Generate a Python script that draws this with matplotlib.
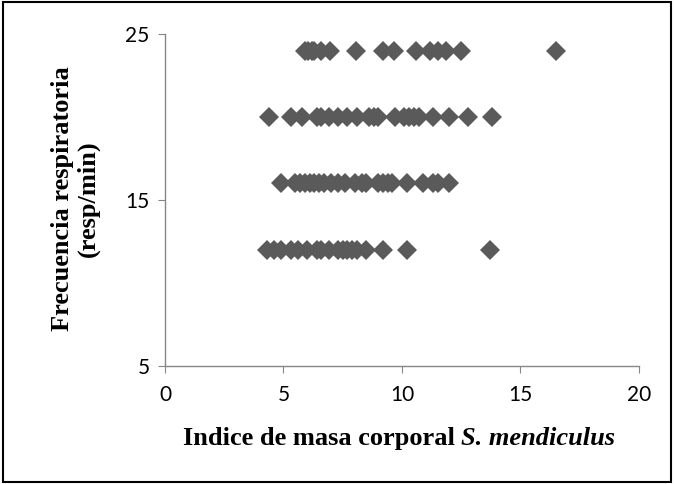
import matplotlib.pyplot as plt
from matplotlib.patches import Rectangle

# x = body mass index, grouped by respiratory rate row
imc_24 = [5.9, 6.05, 6.2, 6.3, 6.6, 6.95, 8.05, 9.2, 9.65, 10.6, 11.2, 11.5, 11.85, 12.5, 16.5]
imc_20 = [4.4, 5.3, 5.8, 6.4, 6.6, 6.9, 7.3, 7.7, 8.1, 8.6, 8.8, 9.0, 9.7, 10.1, 10.3,
          10.5, 10.7, 11.3, 12.0, 12.8, 13.8]
imc_16 = [4.9, 5.5, 5.7, 5.9, 6.1, 6.3, 6.5, 6.7, 7.0, 7.3, 7.6, 8.0, 8.3, 8.5,
          9.0, 9.2, 9.4, 9.6, 10.2, 10.9, 11.3, 11.5, 12.0]
imc_12 = [4.3, 4.6, 4.9, 5.3, 5.6, 6.0, 6.4, 6.6, 6.9, 7.3, 7.5, 7.7, 7.9, 8.1,
          8.5, 9.2, 10.2, 13.7]
rows = {24: imc_24, 20: imc_20, 16: imc_16, 12: imc_12}

x_ticks = [0, 5, 10, 15, 20]
y_ticks = [5, 15, 25]

GRAY = "#868686"
MARK = "#5a5a5a"

fig = plt.figure(figsize=(6.74, 4.84), dpi=100)
ax = fig.add_axes([0.2448, 0.2438, 0.7032, 0.686])

for freq, xs in rows.items():
    ax.plot(xs, [freq] * len(xs), linestyle="none", marker="D",
            markersize=9.8, color=MARK, markeredgewidth=0)

ax.set_xlim(0, 20)
ax.set_ylim(5, 25)
ax.set_xticks(x_ticks)
ax.set_yticks(y_ticks)
for side in ("top", "right"):
    ax.spines[side].set_visible(False)
for side in ("left", "bottom"):
    ax.spines[side].set_color(GRAY)
    ax.spines[side].set_linewidth(1.0)
ax.tick_params(direction="out", length=5, color=GRAY, labelsize=15)
ax.tick_params(axis="x", pad=9)
ax.tick_params(axis="y", pad=6)
for lab in ax.get_xticklabels() + ax.get_yticklabels():
    lab.set_family("Lato")

serif = "Liberation Serif"
fig.text(0.112, 0.59, "Frecuencia respiratoria\n(resp/min)", rotation=90,
         ha="center", va="center", multialignment="center",
         family=serif, fontweight="bold", fontsize=19, linespacing=1.15)

t1 = fig.text(0.2715, 0.093, "Indice de masa corporal ", ha="left", va="center",
              family=serif, fontweight="bold", fontsize=19)
fig.canvas.draw()
ax.annotate("S. mendiculus", xy=(1, 0), xycoords=t1, va="bottom", ha="left",
            family=serif, fontweight="bold", fontstyle="italic", fontsize=19)

# border around the whole chart
fig.patches.append(Rectangle((0.005, 0.005), 0.99, 0.99, transform=fig.transFigure,
                             fill=False, edgecolor="black", linewidth=1.5))

fig.savefig("out.png", dpi=100)
